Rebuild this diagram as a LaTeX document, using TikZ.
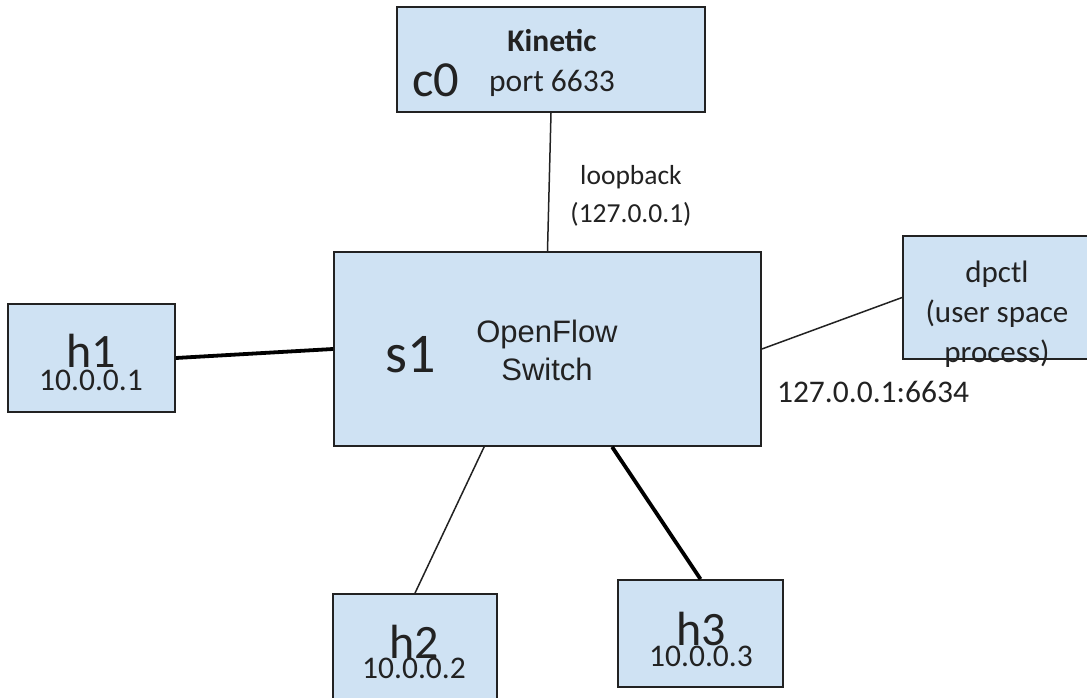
\documentclass[tikz,border=0pt]{standalone}
\usepackage{fontspec}
\setmainfont{Carlito}
\newfontfamily\arialfont{Liberation Sans}
\definecolor{boxblue}{HTML}{CFE2F3}
\definecolor{ink}{HTML}{222222}
\tikzset{
  box/.style 2 args={draw=ink, fill=boxblue, line width=1.8pt, minimum width=#1, minimum height=#2, inner sep=0pt},
  devname/.style={font=\fontsize{#1}{#1}\selectfont, text=ink, anchor=base, inner sep=0pt},
  txt/.style={font=\fontsize{31.5}{40}\selectfont, text=ink, anchor=base, inner sep=0pt, align=center},
  note/.style={font=\fontsize{27.5}{37}\selectfont, text=ink, anchor=base, inner sep=0pt, align=center},
  link/.style={draw=ink, line width=1.5pt},
  heavylink/.style={draw=black, line width=3.8pt}
}

\begin{document}
\begin{tikzpicture}[x=1pt,y=-1pt]
  \clip (0,0) rectangle (1087,698);
  \fill[white] (0,0) rectangle (1087,698);

  \node[box={308}{105}] (c0) at (551,59.5) {};
  \node[box={427}{194}] (s1) at (547.5,349) {};
  \node[box={192}{123}] (dpctl) at (999,297.5) {};
  \node[box={167}{108}] (h1) at (91.5,358) {};
  \node[box={164}{126}] (h2) at (415,657) {};
  \node[box={165}{107}] (h3) at (700.5,633.5) {};

  % multi-line texts sit on the baseline of their last line
  \node[devname=50.5] (c0name) at (436,97) {c0};
  \node[txt] (c0app) at (552,92) {\textbf{Kinetic}\\port 6633};
  \node[devname=56] (s1name) at (411,372) {s1};
  \node[txt, font=\arialfont\fontsize{31}{38}\selectfont] (s1kind) at (547,380) {OpenFlow\\Switch};
  \node[txt, font=\fontsize{31}{40}\selectfont] (dpctlname) at (997,362) {dpctl\\(user space\\process)};
  \foreach \h/\x/\y/\ip/\ipy in {1/91/367/10.0.0.1/390, 2/414/658/10.0.0.2/678, 3/701/645/10.0.0.3/666}{
    \node[devname=48] (h\h name) at (\x,\y) {h\h};
    \node[txt] (h\h ip) at (\x,\ipy) {\ip};
  }

  \draw[link] (c0.south) -- (s1.north);
  \draw[heavylink] (h1.east) -- (s1.west);
  \draw[link] (s1.east) -- (dpctl.west);
  \draw[link] ([xshift=151pt]s1.south west) -- (h2.north);
  \draw[heavylink] ([xshift=279pt]s1.south west) -- (h3.north);

  \node[note] (loop) at (631,222) {loopback\\(127.0.0.1)};
  \node[txt] (dpport) at (873,402) {127.0.0.1:6634};
\end{tikzpicture}
\end{document}
